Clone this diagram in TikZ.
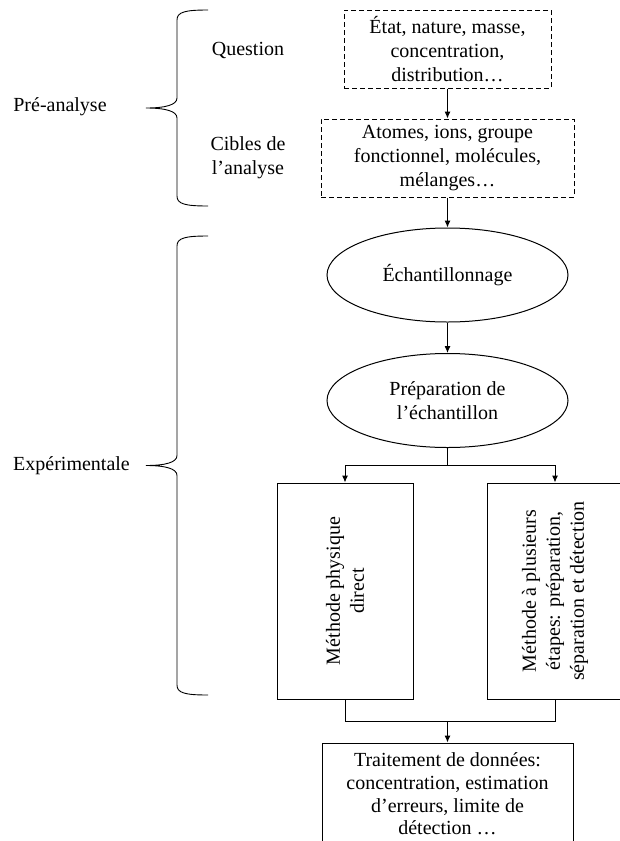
\documentclass[tikz,border=0pt]{standalone}
\usepackage{fontspec}
\setmainfont{Liberation Serif}
\usetikzlibrary{shapes.geometric,arrows.meta}

\tikzset{
  every node/.style={font=\fontsize{20}{24}\selectfont},
  dashbox/.style={draw,dash pattern=on 5pt off 3pt,line width=1pt,align=center,inner sep=0pt},
  ovalbox/.style={draw,ellipse,line width=1pt,align=center,inner sep=0pt,
    minimum width=241pt,minimum height=94pt},
  plainbox/.style={draw,line width=1pt,align=center,inner sep=0pt},
  bracepath/.style={line width=0.9pt},
  link/.style={line width=1pt},
}

\begin{document}
\begin{tikzpicture}[x=1pt,y=-1pt,>={Latex[length=7pt,width=6pt]}]
  \useasboundingbox (0,0) rectangle (620,841);
  \clip (0,0) rectangle (620,841);

  \def\leftbrace#1#2{
    \pgfmathsetmacro\bmid{(#1+#2)/2}
    \draw[bracepath] (208,#1) .. controls (185,#1) and (177,#1+2) .. (177,#1+10)
      -- (177,\bmid-10) .. controls (177,\bmid-3) and (165,\bmid) .. (146,\bmid)
      .. controls (165,\bmid) and (177,\bmid+3) .. (177,\bmid+10)
      -- (177,#2-10) .. controls (177,#2-2) and (185,#2) .. (208,#2);
  }

  % pre-analyse
  \leftbrace{10}{206}
  \node (pre) at (60,107) {Pré-analyse};
  \node (question) at (248,50) {Question};
  \node[align=center] (cibles) at (248,158) {Cibles de\\l’analyse};
  \node[dashbox,minimum width=207pt,minimum height=78pt] (etat) at (447.5,49)
    {État, nature, masse,\\concentration,\\distribution…};
  \node[dashbox,minimum width=253pt,minimum height=78pt] (atomes) at (447.5,158)
    {Atomes, ions, groupe\\fonctionnel, molécules,\\mélanges…};

  % experimentale
  \leftbrace{236}{695}
  \node (exp) at (71.5,466) {Expérimentale};
  \node[ovalbox] (echant) at (447.5,275) {Échantillonnage};
  \node[ovalbox] (prep) at (447.5,400.5) {Préparation de\\l’échantillon};
  \node[plainbox,minimum width=136pt,minimum height=216pt] (direct) at (345,591) {};
  \node[plainbox,minimum width=136pt,minimum height=216pt] (etapes) at (555,591) {};
  \node[rotate=90,align=center] (directtxt) at (direct) {Méthode physique\\direct};
  \node[rotate=90,align=center] (etapestxt) at (etapes)
    {Méthode à plusieurs\\étapes: préparation,\\séparation et détection};
  \node[plainbox,minimum width=251pt,minimum height=102pt,
    font=\fontsize{20}{22.7}\selectfont] (traitement) at (447.5,794)
    {Traitement de données:\\concentration, estimation\\d’erreurs, limite de\\détection …};

  \coordinate (fork) at (447.5,465);
  \coordinate (join) at (447.5,721);

  \draw[link,->] (etat) -- (atomes);
  \draw[link,->] (atomes) -- (echant);
  \draw[link,->] (echant) -- (prep);
  \draw[link] (prep) -- (fork);
  \draw[link,->] (fork) -| (direct);
  \draw[link,->] (fork) -| (etapes);
  \draw[link] (direct) |- (join);
  \draw[link] (etapes) |- (join);
  \draw[link,->] (join) -- (traitement);

\end{tikzpicture}
\end{document}
